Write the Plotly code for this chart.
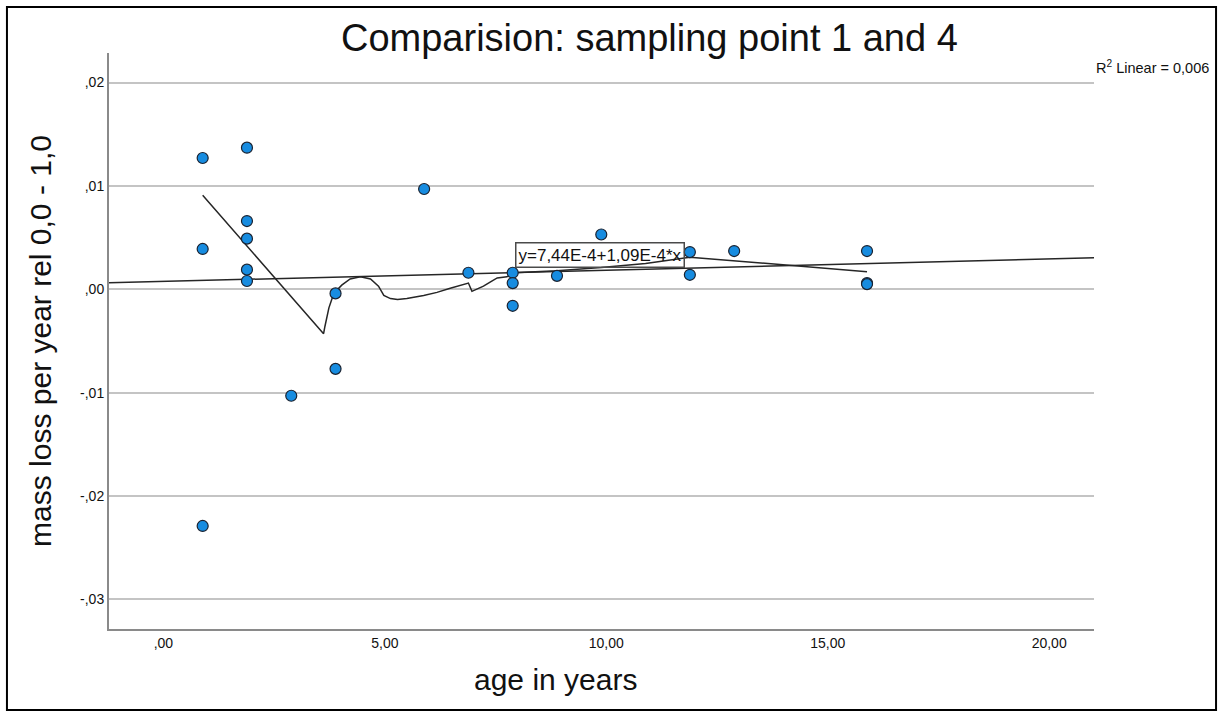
import plotly.graph_objects as go

# Observed samples: age (years) vs. relative mass loss per year
age = [1, 1, 1, 2, 2, 2, 2, 2, 3, 4, 4, 6, 7, 8, 8, 8, 9, 10, 12, 12, 13, 16, 16, 16]
mass_loss = [0.0127, 0.0039, -0.0229, 0.0137, 0.0066, 0.0049, 0.0019, 0.0008,
             -0.0103, -0.0004, -0.0077, 0.0097, 0.0016, 0.0016, 0.0006, -0.0016,
             0.0013, 0.0053, 0.0036, 0.0014, 0.0037, 0.0037, 0.0006, 0.0005]

# Loess fit line
loess_x = [1.0, 3.73, 3.76, 3.85, 3.96, 4.14, 4.33, 4.56, 4.79, 4.97, 5.09, 5.24,
           5.40, 5.61, 5.99, 6.29, 6.59, 7.0, 7.08, 7.34, 7.49, 7.65, 7.87, 8.02,
           9.0, 10.0, 11.0, 12.0, 16.0]
loess_y = [0.0091, -0.0043, -0.0036, -0.0018, -0.0004, 0.0004, 0.0010, 0.0012,
           0.0010, 0.0003, -0.0006, -0.0009, -0.0010, -0.0009, -0.0006, -0.0003,
           0.0001, 0.0006, -0.0002, 0.0003, 0.0007, 0.0011, 0.0012, 0.0016,
           0.0018, 0.0021, 0.0025, 0.0031, 0.0017]

# Linear fit y = a + b*x
intercept = 7.44e-4
slope = 1.09e-4
r_squared = "0,006"

x_range = [-1.115, 21.125]
y_range = [-0.03287, 0.02286]

x_tickvals = [0, 5, 10, 15, 20]
x_ticktext = [",00", "5,00", "10,00", "15,00", "20,00"]
y_tickvals = [0.02, 0.01, 0.0, -0.01, -0.02, -0.03]
y_ticktext = [",02", ",01", ",00", "-,01", "-,02", "-,03"]

FONT = "Liberation Sans, Arial, sans-serif"
INK = "#111111"

fit_x = x_range
fit_y = [intercept + slope * v for v in fit_x]

fig = go.Figure()

fig.add_trace(go.Scatter(
    x=fit_x, y=fit_y, mode="lines",
    line=dict(color="#262626", width=1.5),
    hoverinfo="skip", showlegend=False,
))
fig.add_trace(go.Scatter(
    x=loess_x, y=loess_y, mode="lines",
    line=dict(color="#262626", width=1.5),
    hoverinfo="skip", showlegend=False,
))
fig.add_trace(go.Scatter(
    x=age, y=mass_loss, mode="markers",
    marker=dict(size=11, color="#178ce0", line=dict(color="#1a2230", width=1.2)),
    showlegend=False,
))

fig.update_layout(
    width=1223, height=717,
    margin=dict(l=109, r=129, t=53, b=88),
    paper_bgcolor="white", plot_bgcolor="white",
    font=dict(family=FONT, color=INK),
    title=dict(
        text="Comparision: sampling point 1 and 4",
        x=0.531, xanchor="center", y=0.947, yanchor="middle", yref="container",
        font=dict(size=38, family=FONT, color=INK),
    ),
    xaxis=dict(
        range=x_range, tickvals=x_tickvals, ticktext=x_ticktext,
        showgrid=False, zeroline=False,
        showline=True, linecolor="#8a8a8a", linewidth=2,
        ticks="", ticklabelshift=5,
        tickfont=dict(size=14, family=FONT, color=INK),
    ),
    yaxis=dict(
        range=y_range, tickvals=y_tickvals, ticktext=y_ticktext,
        showgrid=True, gridcolor="#c4c4c4", gridwidth=2, zeroline=False,
        showline=True, linecolor="#8a8a8a", linewidth=2,
        ticks="", tickfont=dict(size=14, family=FONT, color=INK),
        title=dict(text="mass loss per year rel 0,0 - 1,0",
                   font=dict(size=30, family=FONT, color=INK), standoff=20),
    ),
    annotations=[
        # x-axis title
        dict(
            text="age in years",
            xref="paper", yref="paper", x=0.4528, y=-0.087,
            xanchor="center", yanchor="middle", showarrow=False,
            font=dict(size=30, family=FONT, color=INK),
        ),
        dict(
            text=f"R<sup>2</sup> Linear = {r_squared}",
            xref="paper", yref="paper", x=0.9995, y=0.9757,
            xanchor="left", yanchor="middle", showarrow=False,
            font=dict(size=14.5, family=FONT, color=INK),
        ),
        dict(
            text="y=7,44E-4+1,09E-4*x",
            xref="x", yref="y", x=8.05, y=0.00461,
            xanchor="left", yanchor="top", showarrow=False,
            font=dict(size=17, family=FONT, color=INK),
            bordercolor="#4a4a4a", borderwidth=1.5, borderpad=2,
        ),
    ],
    shapes=[
        dict(type="rect", xref="paper", yref="paper",
             x0=-0.1036, x1=1.1239, y0=-0.1406, y1=1.0799,
             line=dict(color="black", width=2), fillcolor="rgba(0,0,0,0)",
             layer="above"),
    ],
)

fig.write_html("out.html")
